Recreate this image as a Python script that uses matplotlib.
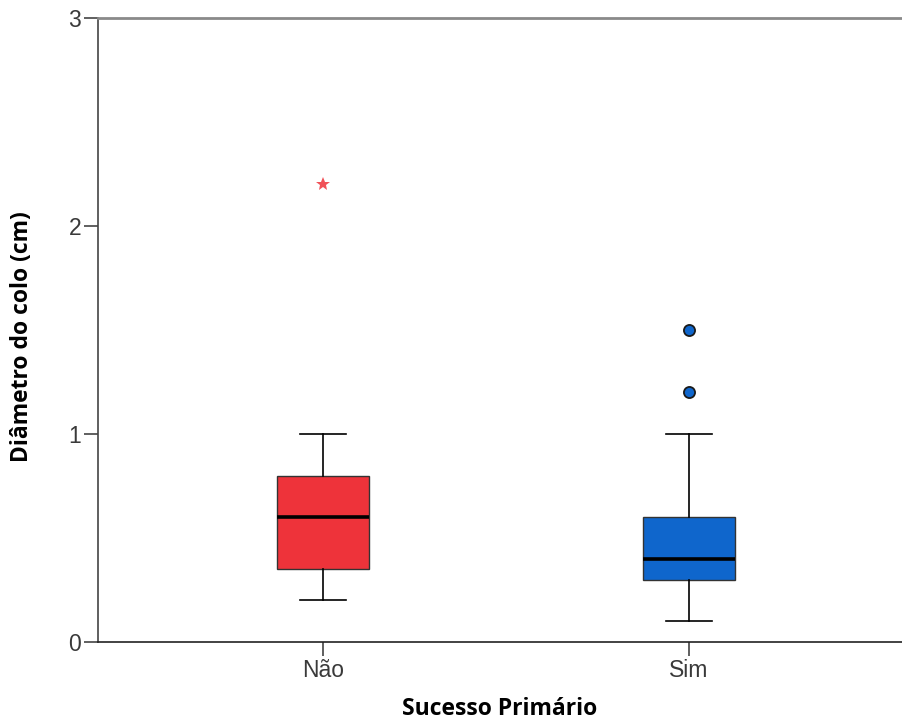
import matplotlib.pyplot as plt

# Data
groups = ['Não', 'Sim']
whislo = [0.2, 0.1]
q1 = [0.35, 0.3]
med = [0.6, 0.4]
q3 = [0.8, 0.6]
whishi = [1.0, 1.0]
extremes = [[2.2], []]      # shown as stars
outliers = [[], [1.2, 1.5]]  # shown as circles
colors = ['#EE333A', '#0F66CC']

stats = []
for i, g in enumerate(groups):
    stats.append({'label': g, 'whislo': whislo[i], 'q1': q1[i], 'med': med[i],
                  'q3': q3[i], 'whishi': whishi[i], 'fliers': []})

fig = plt.figure(figsize=(9.02, 7.2), dpi=100)
ax = fig.add_axes([98 / 902, 1 - 642 / 720, 1 - 98 / 902, (642 - 18) / 720])

pos = [1, 2]
bp = ax.bxp(stats, positions=pos, widths=0.25, patch_artist=True, showfliers=False,
            boxprops=dict(edgecolor='#333333', linewidth=1.0),
            medianprops=dict(color='black', linewidth=2.6),
            whiskerprops=dict(color='black', linewidth=1.2),
            capprops=dict(color='black', linewidth=1.2),
            capwidths=0.125)
for patch, c in zip(bp['boxes'], colors):
    patch.set_facecolor(c)

for p, ext, out, c in zip(pos, extremes, outliers, colors):
    if ext:
        ax.plot([p] * len(ext), ext, linestyle='none', marker='*', markersize=10,
                color=c, markeredgewidth=0, alpha=0.85)
    if out:
        ax.plot([p] * len(out), out, linestyle='none', marker='o', markersize=8,
                markerfacecolor=c, markeredgecolor='#1a1a1a', markeredgewidth=1.3)

ax.set_xlim(1 - 225 / 366, 2 + (902 - 689) / 366)
ax.set_ylim(0, 3)
ax.set_yticks([0, 1, 2, 3])
ax.set_xticks(pos)
ax.set_xticklabels(groups)

ax.spines['right'].set_visible(False)
ax.spines['top'].set_color('#8a8a8a')
ax.spines['top'].set_linewidth(2)
ax.spines['left'].set_color('#444444')
ax.spines['left'].set_linewidth(1.2)
ax.spines['bottom'].set_color('#222222')
ax.spines['bottom'].set_linewidth(1.2)
ax.tick_params(axis='both', direction='out', length=10, width=1.2, color='#444444',
               labelsize=16.5, labelcolor='#3a3a3a', pad=2)
for lab in ax.get_xticklabels() + ax.get_yticklabels():
    lab.set_fontfamily('Liberation Sans')

ax.set_xlabel('Sucesso Primário', fontsize=16.5, fontweight='bold', labelpad=11,
              fontfamily='Open Sans')
ax.set_ylabel('Diâmetro do colo (cm)', fontsize=16.5, fontweight='bold',
              fontfamily='Open Sans')
ax.yaxis.set_label_coords(-0.08, 0.49)

fig.savefig('out.png', dpi=100)
